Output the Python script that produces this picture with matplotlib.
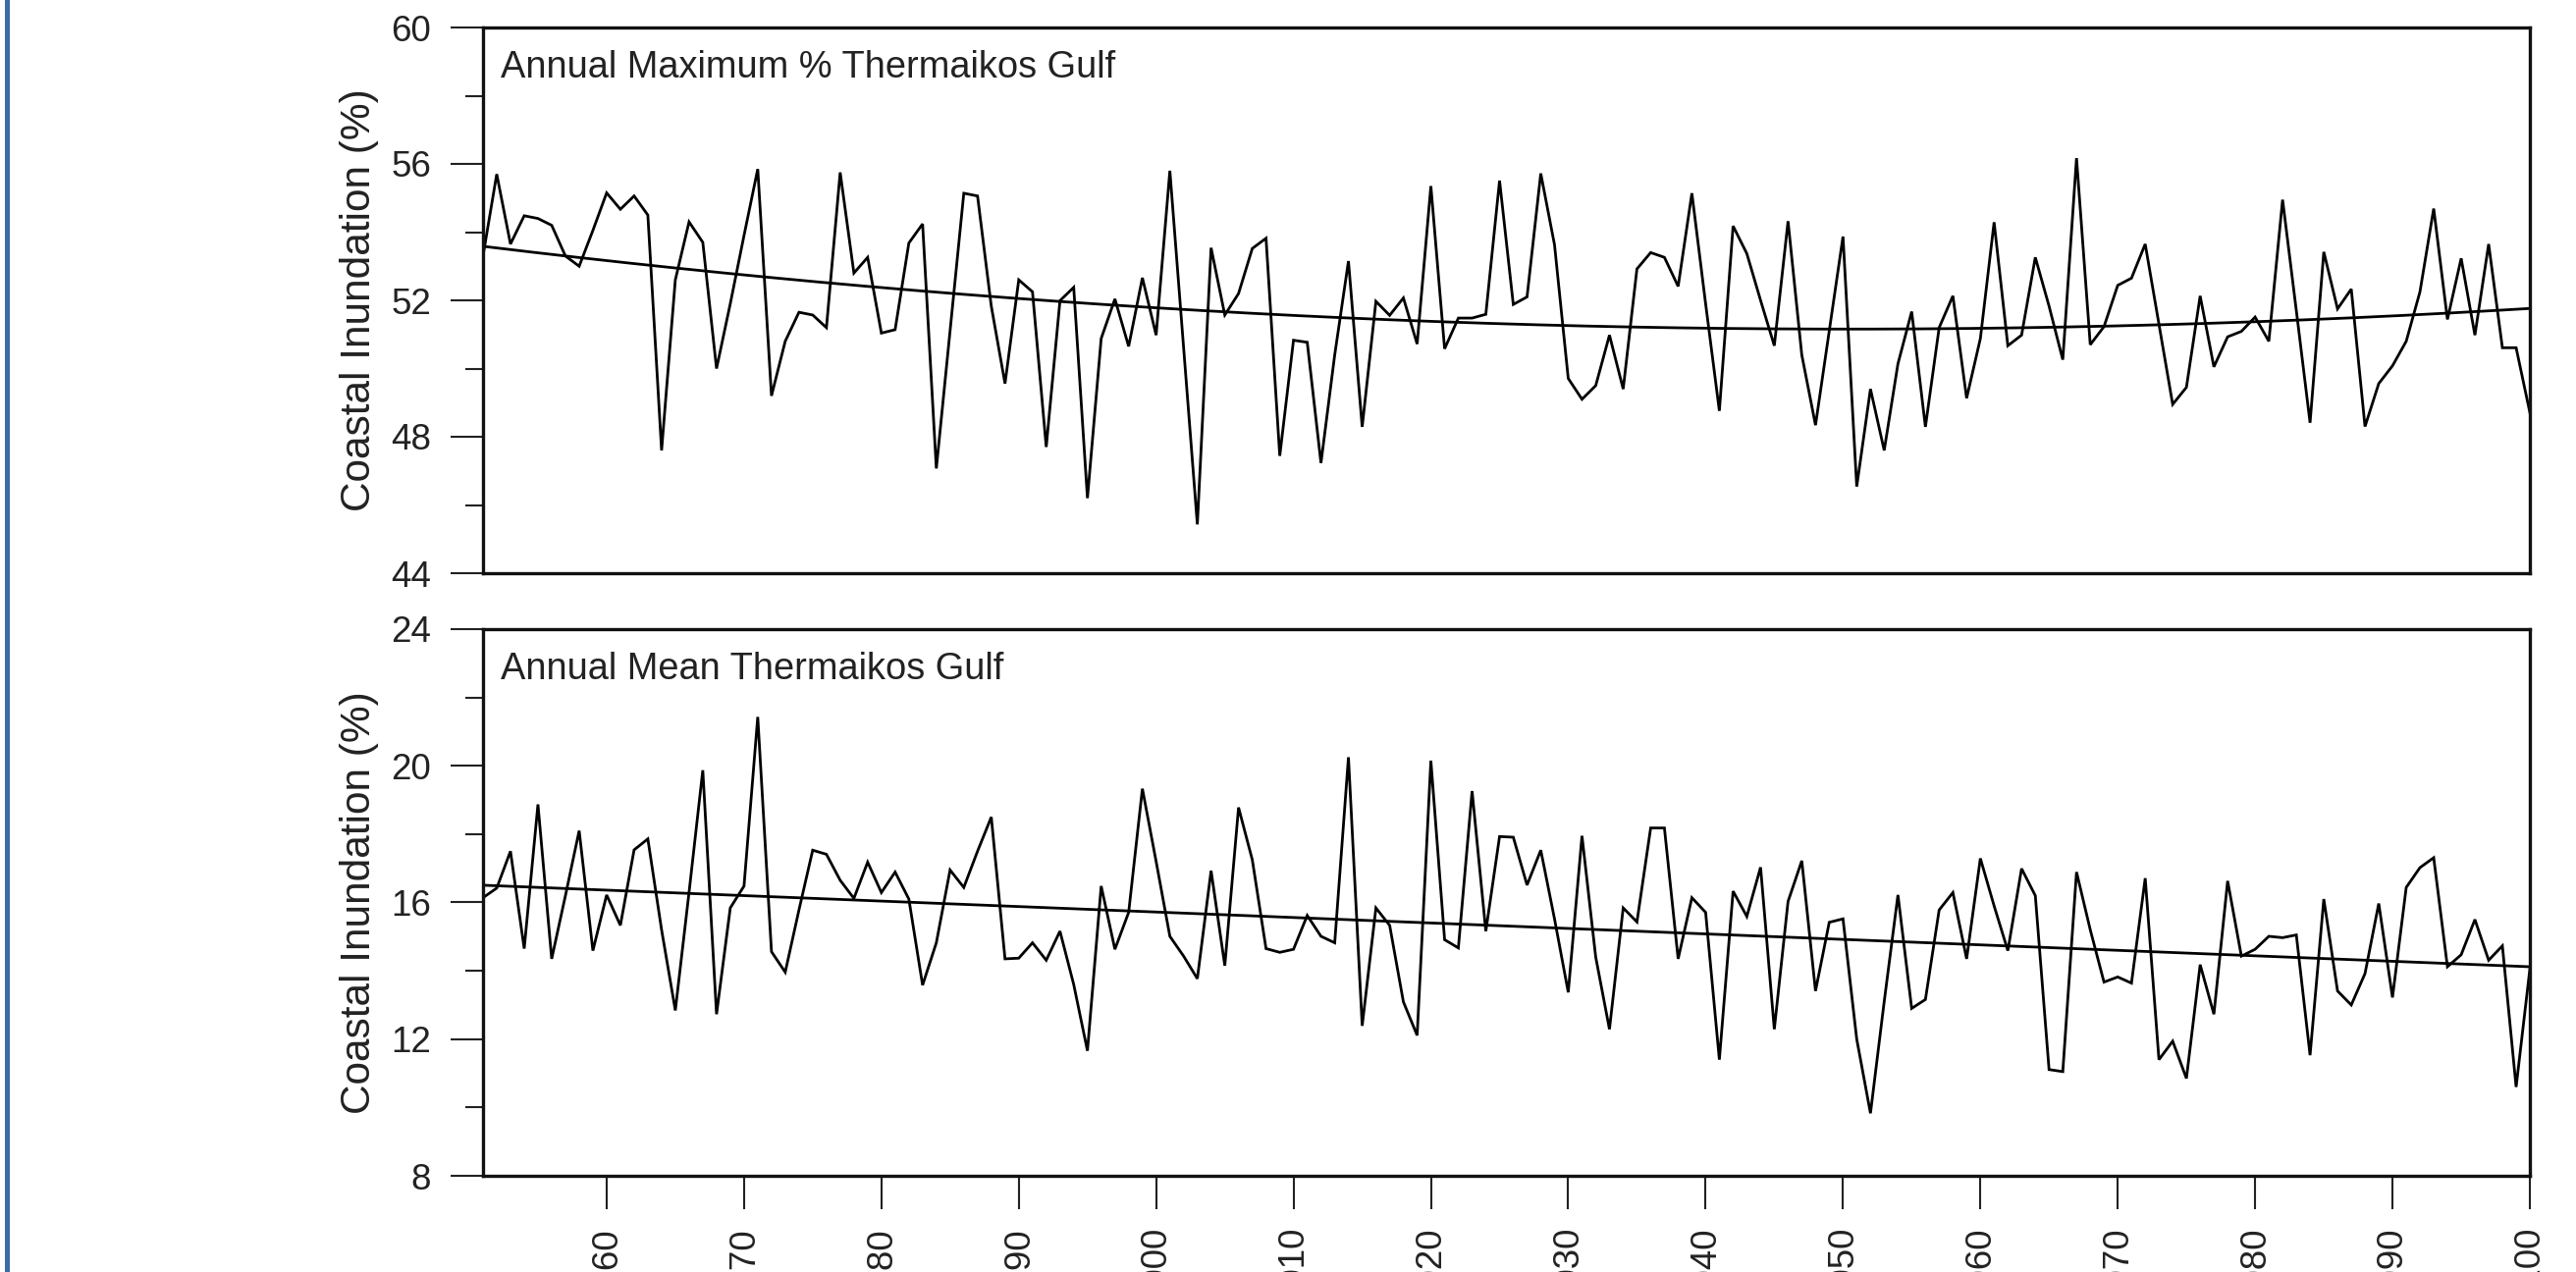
import numpy as np
import matplotlib
matplotlib.use('Agg')
import matplotlib.pyplot as plt
from matplotlib.ticker import MultipleLocator
from matplotlib.patches import Rectangle

plt.rcParams['font.family'] = ['Liberation Sans', 'DejaVu Sans']

# ---------------- data ----------------
years = np.arange(1951, 2101)

annual_max = [
    53.3, 55.7, 53.65, 54.48, 54.4, 54.2, 53.3, 53.0, 54.05, 55.15,      # 1951-1960
    54.67, 55.06, 54.5, 47.6, 52.6, 54.3, 53.7, 50.0, 51.9, 53.9,        # 1961-1970
    55.85, 49.2, 50.8, 51.65, 51.57, 51.2, 55.75, 52.8, 53.26, 51.04,    # 1971-1980
    51.14, 53.68, 54.24, 47.07, 51.1, 55.14, 55.06, 51.83, 49.56, 52.6,  # 1981-1990
    52.25, 47.7, 51.99, 52.38, 46.2, 50.88, 52.04, 50.65, 52.66, 50.98,  # 1991-2000
    55.8, 50.6, 45.43, 53.54, 51.57, 52.2, 53.52, 53.82, 47.44, 50.83,   # 2001-2010
    50.77, 47.23, 50.4, 53.15, 48.29, 51.97, 51.56, 52.07, 50.72, 55.35, # 2011-2020
    50.58, 51.48, 51.48, 51.59, 55.51, 51.88, 52.1, 55.72, 53.63, 49.71, # 2021-2030
    49.1, 49.5, 50.98, 49.4, 52.92, 53.4, 53.26, 52.41, 55.14, 51.9,     # 2031-2040
    48.76, 54.18, 53.37, 52.0, 50.67, 54.32, 50.4, 48.34, 51.1, 53.87,   # 2041-2050
    46.54, 49.4, 47.6, 50.14, 51.67, 48.29, 51.2, 52.13, 49.13, 50.88,   # 2051-2060
    54.29, 50.67, 50.98, 53.26, 51.83, 50.26, 56.17, 50.7, 51.23, 52.44, # 2061-2070
    52.65, 53.65, 51.3, 48.95, 49.45, 52.13, 50.05, 50.93, 51.09, 51.51, # 2071-2080
    50.8, 54.95, 51.7, 48.41, 53.42, 51.75, 52.33, 48.3, 49.56, 50.08,   # 2081-2090
    50.8, 52.25, 54.69, 51.44, 53.23, 50.98, 53.65, 50.61, 50.61, 48.71, # 2091-2100
]

annual_mean = [
    16.14, 16.42, 17.5, 14.65, 18.87, 14.35, 16.2, 18.1, 14.59, 16.22,   # 1951-1960
    15.33, 17.54, 17.86, 15.2, 12.84, 16.3, 19.87, 12.73, 15.84, 16.48,  # 1961-1970
    21.43, 14.56, 13.96, 15.78, 17.53, 17.41, 16.65, 16.12, 17.18, 16.29,# 1971-1980
    16.89, 16.1, 13.58, 14.82, 16.95, 16.44, 17.5, 18.5, 14.35, 14.37,   # 1981-1990
    14.82, 14.31, 15.16, 13.6, 11.66, 16.48, 14.63, 15.71, 19.33, 17.2,  # 1991-2000
    15.01, 14.43, 13.77, 16.93, 14.15, 18.78, 17.25, 14.65, 14.54, 14.63,# 2001-2010
    15.62, 15.01, 14.82, 20.25, 12.39, 15.84, 15.33, 13.09, 12.11, 20.15,# 2011-2020
    14.91, 14.67, 19.26, 15.16, 17.93, 17.91, 16.51, 17.53, 15.52, 13.37,# 2021-2030
    17.95, 14.4, 12.29, 15.84, 15.43, 18.18, 18.18, 14.35, 16.14, 15.71, # 2031-2040
    11.4, 16.33, 15.59, 17.03, 12.29, 16.03, 17.22, 13.41, 15.42, 15.52, # 2041-2050
    12.0, 9.83, 13.1, 16.22, 12.9, 13.16, 15.78, 16.29, 14.35, 17.29,    # 2051-2060
    15.9, 14.59, 16.99, 16.2, 11.11, 11.05, 16.89, 15.2, 13.67, 13.82,   # 2061-2070
    13.64, 16.71, 11.4, 11.94, 10.85, 14.18, 12.73, 16.63, 14.43, 14.63, # 2071-2080
    15.01, 14.97, 15.05, 11.53, 16.1, 13.41, 13.0, 13.92, 15.97, 13.22,  # 2081-2090
    16.44, 17.02, 17.31, 14.12, 14.47, 15.5, 14.31, 14.73, 10.6, 14.05,  # 2091-2100
]

panel_titles = ["Annual Maximum % Thermaikos Gulf", "Annual Mean Thermaikos Gulf"]
y_label = "Coastal Inundation (%)"
x_ticks = list(range(1960, 2101, 10))
top_yticks = [44, 48, 52, 56, 60]
bottom_yticks = [8, 12, 16, 20, 24]

# ---------------- figure ----------------
W, H = 2624, 1296
fig = plt.figure(figsize=(W / 100, H / 100), dpi=100)
fig.patch.set_facecolor('white')

left = 492 / W
width = (2577 - 492) / W
ax1 = fig.add_axes([left, 1 - 584 / H, width, 556 / H])
ax2 = fig.add_axes([left, 1 - 1198 / H, width, 557 / H])

fits = [2, 1]
series = [annual_max, annual_mean]
yticks = [top_yticks, bottom_yticks]

for i, ax in enumerate([ax1, ax2]):
    vals = np.array(series[i])
    ax.plot(years, vals, color='black', lw=2.0, solid_joinstyle='miter')
    coef = np.polyfit(years - 2025, vals, fits[i])
    yy = np.linspace(years[0], years[-1], 300)
    ax.plot(yy, np.polyval(coef, yy - 2025), color='black', lw=2.0)

    ax.set_xlim(1951, 2100)
    ax.set_ylim(yticks[i][0], yticks[i][-1])
    ax.set_yticks(yticks[i])
    ax.yaxis.set_minor_locator(MultipleLocator(2))
    for sp in ax.spines.values():
        sp.set_linewidth(2.4)
        sp.set_color('#111111')
    ax.tick_params(axis='y', which='major', direction='out', length=24, width=1.5,
                   pad=14, labelsize=26.5, colors='#222222')
    ax.tick_params(axis='y', which='minor', direction='out', length=13, width=1.5,
                   colors='#222222')
    ax.set_ylabel(y_label, fontsize=30.5, color='#222222')
    ax.yaxis.set_label_coords(-0.051, 0.5)
    ax.text(0.0088, 0.908, panel_titles[i], transform=ax.transAxes,
            fontsize=27.4, ha='left', va='baseline', color='#222222')

ax1.set_xticks(x_ticks)
ax1.tick_params(axis='x', which='both', bottom=False, labelbottom=False)

ax2.set_xticks(x_ticks)
ax2.set_xticklabels([str(t) for t in x_ticks], rotation=90)
ax2.tick_params(axis='x', which='major', direction='out', length=24.5, width=1.5,
                pad=13, labelsize=26.5, colors='#222222')
for lab in ax2.get_xticklabels():
    lab.set_horizontalalignment('center')
    lab.set_verticalalignment('top')

# blue frame on the left edge
fig.add_artist(Rectangle((4.5 / W, 0), 5.5 / W, 1, transform=fig.transFigure,
                         facecolor='#3a6ca6', edgecolor='none'))

fig.savefig('out.png', dpi=100)
